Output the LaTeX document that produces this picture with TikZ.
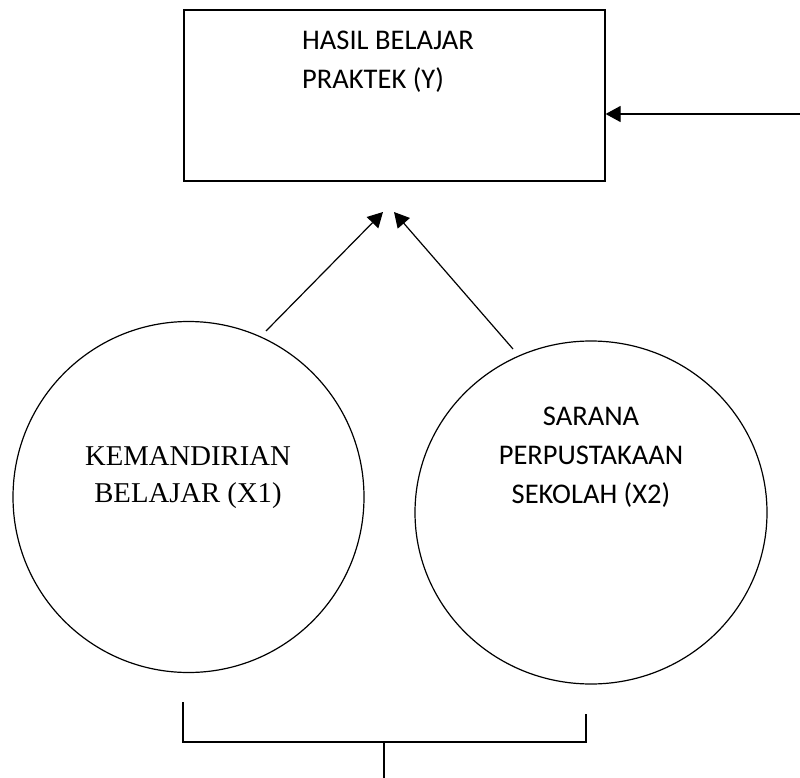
\documentclass[tikz,border=0pt]{standalone}
\usepackage{fontspec}
\setmainfont{Liberation Serif}
\newfontfamily\sansfam{Carlito}
\usetikzlibrary{arrows.meta,shapes.geometric}
\begin{document}
\begin{tikzpicture}[x=1pt,y=-1pt,
  line/.style={line width=1.2pt,black},
  arr/.style={line,-{Triangle[length=15pt,width=16pt]}},
  sanstxt/.style={font=\sansfam\fontsize{28.5}{39}\selectfont,inner sep=0pt},
  seriftxt/.style={font=\fontsize{28.7}{37}\selectfont,inner sep=0pt}]
\useasboundingbox (0,0) rectangle (800,778);
% box
\node[draw,line,rectangle,minimum width=421pt,minimum height=171pt,inner sep=0pt] (ybox) at (394.5,95.5) {};
\node[sanstxt,align=left,anchor=base west] (ytext) at (302,89) {HASIL BELAJAR\\PRAKTEK (Y)};
% circles
\node[draw,line,circle,minimum size=351pt,inner sep=0pt] (x1) at (188.5,497) {};
\node[seriftxt,align=center,anchor=base] (x1text) at (188,502) {KEMANDIRIAN\\BELAJAR (X1)};
\node[draw,line,ellipse,minimum width=352pt,minimum height=343pt,inner sep=0pt] (x2) at (591,512.5) {};
\node[sanstxt,align=center,anchor=base] (x2text) at (591,503) {SARANA\\PERPUSTAKAAN\\SEKOLAH (X2)};
% coordinates
\coordinate (a1s) at (266,331);
\coordinate (a1e) at (383,212);
\coordinate (a2s) at (513,349);
\coordinate (a2e) at (394,212);
\coordinate (rs) at (800,114);
\coordinate (re) at (ybox.east |- rs);
\coordinate (bl) at (183,702);
\coordinate (blc) at (183,742);
\coordinate (brc) at (586,742);
\coordinate (br) at (586,714);
\coordinate (st) at (384,742);
\coordinate (sb) at (384,778);
% connectors
\draw[arr] (a1s) -- (a1e);
\draw[arr] (a2s) -- (a2e);
\draw[arr] (rs) -- (re);
\draw[line] (bl) -- (blc) -- (brc) -- (br);
\draw[line] (st) -- (sb);
\end{tikzpicture}
\end{document}
